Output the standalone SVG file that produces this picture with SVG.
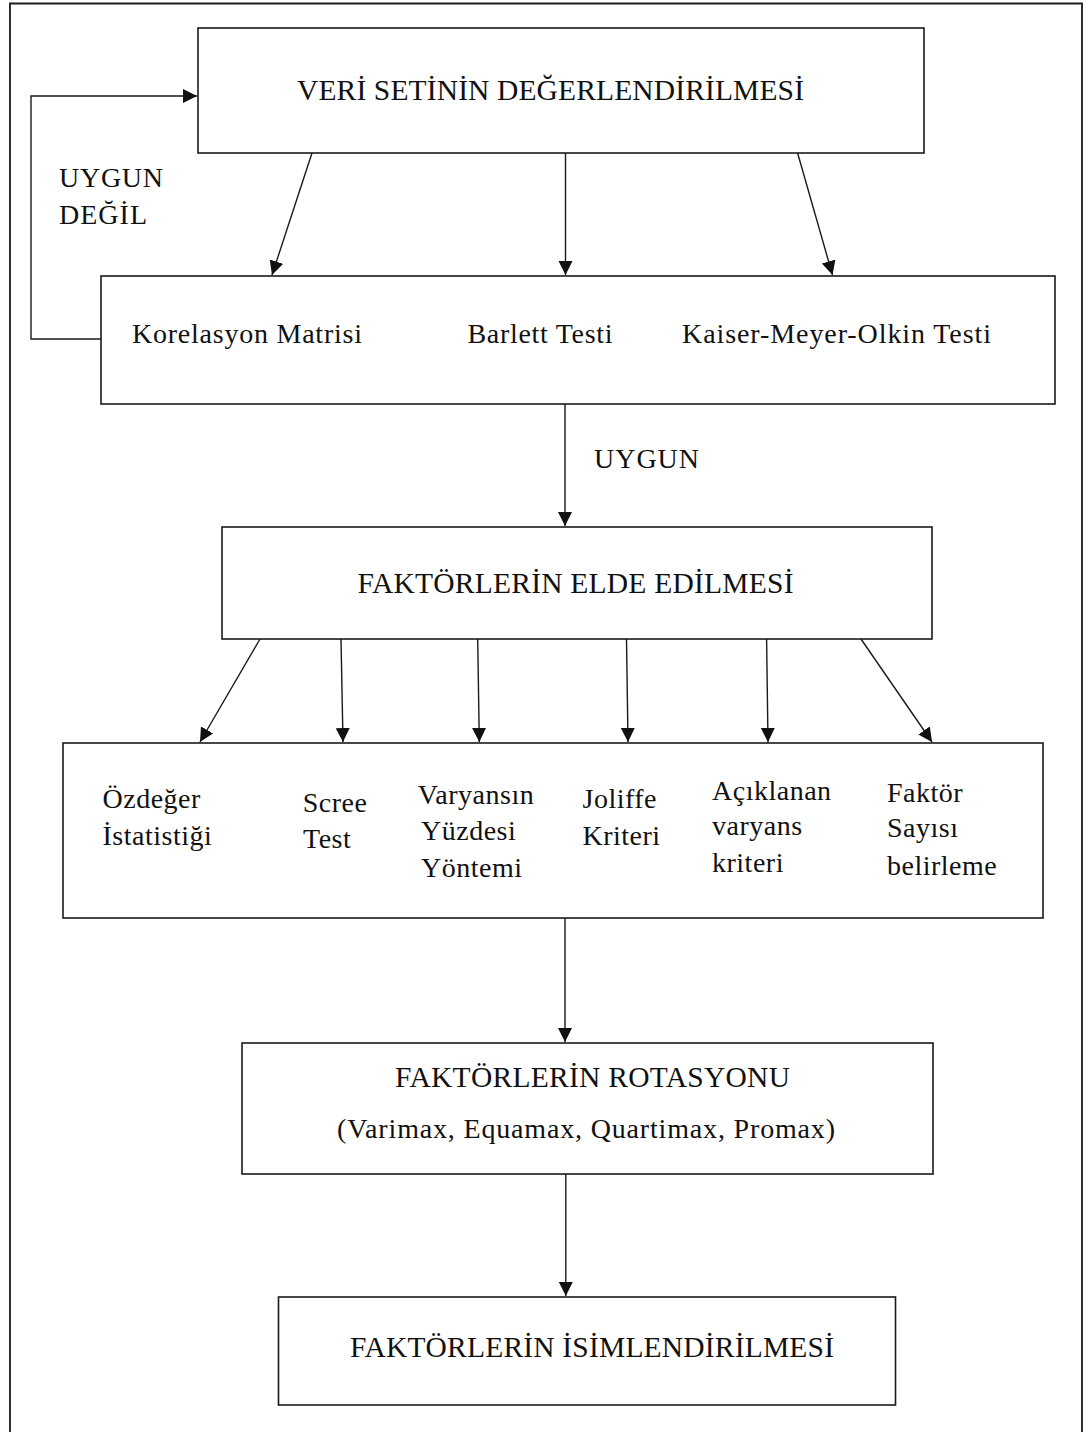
<svg xmlns="http://www.w3.org/2000/svg" width="1087" height="1432" viewBox="0 0 1087 1432">
<style>
.box{fill:#fff;stroke:#1a1a1a;stroke-width:1.6}
.frame{fill:none;stroke:#1a1a1a;stroke-width:1.8}
.edge{fill:none;stroke:#1a1a1a;stroke-width:1.4;marker-end:url(#ah)}
text{font-family:"Liberation Serif","Times New Roman",serif;font-size:28px;fill:#111}
.hd{font-size:29.5px}
.sm{letter-spacing:0.5px}
</style>
<defs>
<marker id="ah" markerUnits="userSpaceOnUse" markerWidth="15" markerHeight="15" refX="14" refY="7" orient="auto">
<path d="M0,0 L14,7 L0,14 z" fill="#111"/>
</marker>
</defs>
<rect width="1087" height="1432" fill="#fff"/>
<path class="frame" d="M10,1433 V3.5 H1082 V1433"/>
<g id="connectors">
<path class="edge" d="M101,339 H31 V96 H197"/>
<line class="edge" x1="312" y1="153" x2="272" y2="275"/>
<line class="edge" x1="565.5" y1="153" x2="565.5" y2="275"/>
<line class="edge" x1="797.6" y1="153" x2="832.5" y2="275"/>
<line class="edge" x1="565" y1="404" x2="565" y2="526"/>
<line class="edge" x1="260" y1="639" x2="200" y2="742"/>
<line class="edge" x1="341" y1="639" x2="343" y2="742"/>
<line class="edge" x1="477.7" y1="639" x2="479.3" y2="742"/>
<line class="edge" x1="626.5" y1="639" x2="628" y2="742"/>
<line class="edge" x1="766.6" y1="639" x2="768" y2="742"/>
<line class="edge" x1="861" y1="639" x2="932" y2="742"/>
<line class="edge" x1="565" y1="918" x2="565" y2="1042"/>
<line class="edge" x1="565.8" y1="1174" x2="565.8" y2="1296"/>
</g>
<g id="lbl-uygun-degil">
<text x="59" y="187" textLength="104" lengthAdjust="spacing">UYGUN</text>
<text x="59" y="224" textLength="88" lengthAdjust="spacing">DEĞİL</text>
</g>
<g id="lbl-uygun">
<text x="594" y="468" textLength="105" lengthAdjust="spacing">UYGUN</text>
</g>
<g id="n1">
<rect class="box" x="198" y="28" width="726" height="125"/>
<text class="hd" x="297" y="100" textLength="507" lengthAdjust="spacing">VERİ SETİNİN DEĞERLENDİRİLMESİ</text>
</g>
<g id="n2">
<rect class="box" x="101" y="276" width="954" height="128"/>
<text x="132" y="343" textLength="230" lengthAdjust="spacing">Korelasyon Matrisi</text>
<text x="467.5" y="343" textLength="145" lengthAdjust="spacing">Barlett Testi</text>
<text x="682" y="343" textLength="309" lengthAdjust="spacing">Kaiser-Meyer-Olkin Testi</text>
</g>
<g id="n3">
<rect class="box" x="222" y="527" width="710" height="112"/>
<text class="hd" x="357.5" y="593" textLength="436" lengthAdjust="spacing">FAKTÖRLERİN ELDE EDİLMESİ</text>
</g>
<g id="n4">
<rect class="box" x="63" y="743" width="980" height="175"/>
<text class="sm" x="102.5" y="807.7">Özdeğer</text>
<text class="sm" x="102.5" y="845">İstatistiği</text>
<text class="sm" x="302.7" y="811.7">Scree</text>
<text class="sm" x="303" y="848.3">Test</text>
<text class="sm" x="417.7" y="804.3">Varyansın</text>
<text class="sm" x="421" y="840">Yüzdesi</text>
<text class="sm" x="421" y="876.7">Yöntemi</text>
<text class="sm" x="582.5" y="807.7">Joliffe</text>
<text class="sm" x="582.5" y="845">Kriteri</text>
<text class="sm" x="712" y="800">Açıklanan</text>
<text class="sm" x="712" y="835">varyans</text>
<text class="sm" x="712" y="872.3">kriteri</text>
<text class="sm" x="887" y="801.7">Faktör</text>
<text class="sm" x="887" y="837.3">Sayısı</text>
<text class="sm" x="887" y="875">belirleme</text>
</g>
<g id="n5">
<rect class="box" x="242" y="1043" width="691" height="131"/>
<text class="hd" x="395" y="1087.3" textLength="395" lengthAdjust="spacing">FAKTÖRLERİN ROTASYONU</text>
<text x="337" y="1138.3" textLength="498" lengthAdjust="spacing">(Varimax, Equamax, Quartimax, Promax)</text>
</g>
<g id="n6">
<rect class="box" x="278.5" y="1297" width="617" height="108"/>
<text class="hd" x="350" y="1356.7" textLength="484" lengthAdjust="spacing">FAKTÖRLERİN İSİMLENDİRİLMESİ</text>
</g>
</svg>
